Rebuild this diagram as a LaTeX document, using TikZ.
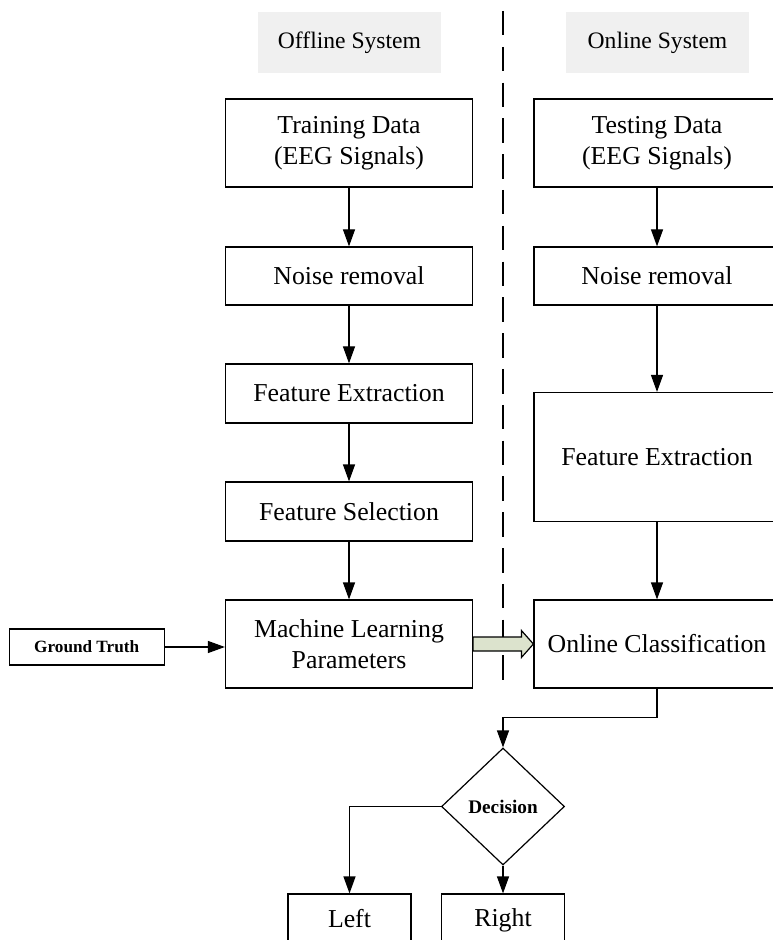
\documentclass[tikz,border=0pt]{standalone}
\usepackage{fontspec}
\setmainfont{Liberation Serif}
\usetikzlibrary{positioning,arrows.meta,shapes.geometric,calc}
\definecolor{cinzaclaro}{HTML}{F0F0F0}
\definecolor{verdeclaro}{HTML}{DCE3CD}

\begin{document}
\begin{tikzpicture}[x=0.5pt, y=-0.5pt,
    box/.style={draw, line width=0.6pt, align=center, inner sep=0pt,
        minimum width=123.5pt, font=\fontsize{12.9}{15.5}\selectfont},
    header/.style={fill=cinzaclaro, inner sep=0pt, minimum width=91.5pt,
        minimum height=30.5pt, font=\fontsize{11.8}{14}\selectfont},
    seta/.style={line width=0.6pt, -{Triangle[length=8.5pt,width=6pt]}}]
    \useasboundingbox (0,0) rectangle (772,940);

    % Titulos
    \node[header] (offhead) at (349.5,42.5) {Offline System};
    \node[header] (onhead) at (657.5,42.5) {Online System};

    % Separador
    \coordinate (septop) at (503,11);
    \coordinate (sepbot) at (503,680);
    \draw[line width=1.4pt, dash pattern=on 12.25pt off 5.65pt] (septop) -- (sepbot);

    % Sistema offline
    \node[box, minimum height=44pt] (train) at (349,143) {Training Data\\(EEG Signals)};
    \node[box, minimum height=29pt] (noiseL) at (349,276) {Noise removal};
    \node[box, minimum height=29.5pt] (featL) at (349,393.5) {Feature Extraction};
    \node[box, minimum height=29.5pt] (sel) at (349,511.5) {Feature Selection};
    \node[box, minimum height=44pt] (ml) at (349,644) {Machine Learning\\Parameters};
    \node[box, minimum width=77.5pt, minimum height=18pt,
        font=\fontsize{8.6}{10}\selectfont\bfseries] (gt) at (86.7,647) {Ground Truth};

    % Sistema online
    \node[box, minimum width=123pt, minimum height=44pt] (test) at (657,143) {Testing Data\\(EEG Signals)};
    \node[box, minimum width=123pt, minimum height=29pt] (noiseR) at (657,276) {Noise removal};
    \node[box, minimum width=123pt, minimum height=64.5pt] (featR) at (657,457) {Feature Extraction};
    \node[box, minimum width=123pt, minimum height=44pt] (oc) at (657,644) {Online Classification};

    % Decisao
    \node[draw, line width=0.6pt, diamond, inner sep=0pt, minimum width=61.5pt,
        minimum height=58.5pt, font=\fontsize{9.6}{11}\selectfont\bfseries] (dec) at (503,806.5) {Decision};
    \node[box, minimum width=61.5pt, minimum height=24pt, text depth=0pt] (left) at (349.5,918) {Left};
    \node[box, minimum width=61.5pt, minimum height=24pt, text depth=0pt] (right) at (503,918) {Right};

    % Setas
    \draw[seta] (train) -- (noiseL);
    \draw[seta] (noiseL) -- (featL);
    \draw[seta] (featL) -- (sel);
    \draw[seta] (sel) -- (ml);
    \draw[seta] (gt.east) -- (gt.east -| ml.west);
    \draw[seta] (test) -- (noiseR);
    \draw[seta] (noiseR) -- (featR);
    \draw[seta] (featR) -- (oc);
    \draw[seta] (oc.south) -- ++(0,29) -| (dec.north);
    \draw[seta] (dec.west) -| (left.north);
    \draw[seta] (dec.south) -- (right.north);

    % Seta dupla entre os sistemas
    \draw[line width=0.6pt, fill=verdeclaro] ($(ml.east)+(0,-7)$) -- ($(oc.west)+(-12,-7)$)
        -- ($(oc.west)+(-12,-13.5)$) -- (oc.west) -- ($(oc.west)+(-12,13.5)$)
        -- ($(oc.west)+(-12,7)$) -- ($(ml.east)+(0,7)$) -- cycle;
\end{tikzpicture}
\end{document}
